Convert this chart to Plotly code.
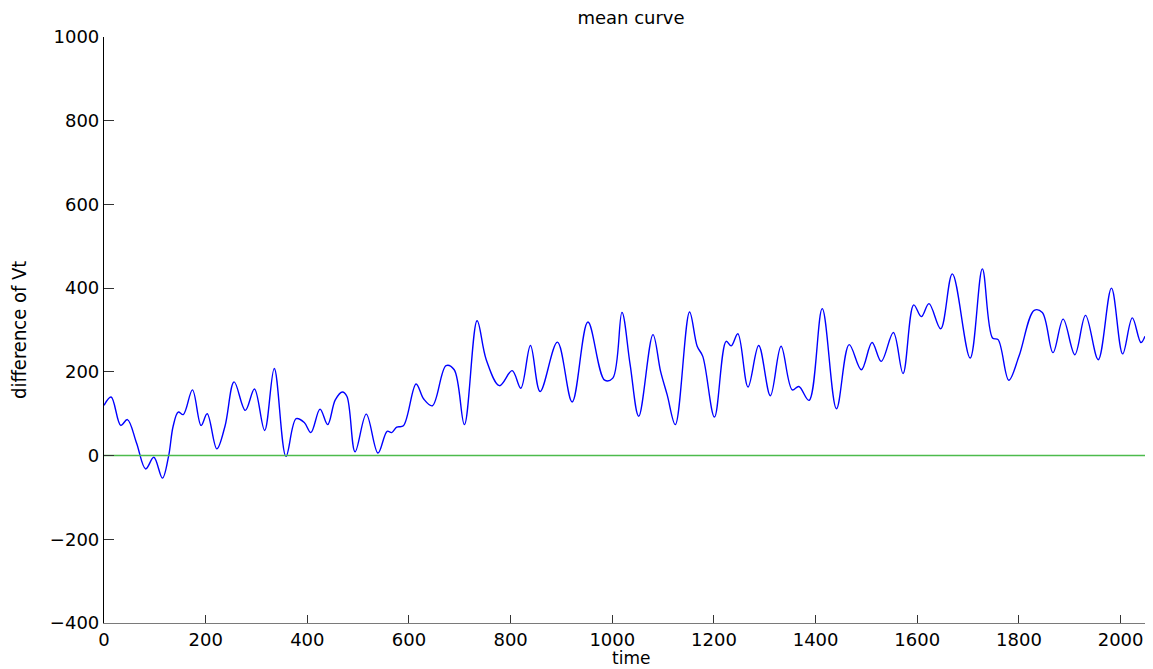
import plotly.graph_objects as go

# Sampled mean curve: time index and difference of Vt
time_pts = [
    0, 14, 33, 46, 64, 82, 98, 115, 127, 136, 146, 156, 174, 191, 203, 222,
    238, 256, 278, 296, 316, 335, 358, 378, 394, 407, 425, 440, 455, 469,
    478, 494, 516, 539, 557, 566, 576, 589, 614, 629, 646, 673, 689, 709,
    734, 752, 778, 803, 820, 839, 858, 892, 921, 952, 985, 1001, 1019, 1035,
    1052, 1080, 1095, 1108, 1124, 1152, 1167, 1178, 1201, 1224, 1234, 1247,
    1267, 1288, 1311, 1332, 1354, 1367, 1387, 1413, 1441, 1466, 1490, 1511,
    1529, 1553, 1572, 1593, 1608, 1623, 1646, 1669, 1704, 1728, 1748, 1759,
    1780, 1800, 1830, 1846, 1867, 1887, 1910, 1931, 1956, 1982, 2004, 2023,
    2040, 2048,
]
mean_vals = [
    120, 140, 72, 86, 30, -32, -4, -54, -2, 70, 104, 98, 157, 72, 100, 16,
    70, 176, 108, 159, 60, 208, -2, 88, 79, 55, 111, 74, 133, 152,
    141, 9, 99, 6, 58, 55, 68, 71, 171, 135, 119, 215, 205, 74,
    322, 229, 167, 203, 161, 263, 153, 271, 128, 319, 180, 185, 342, 218,
    94, 289, 201, 145, 74, 343, 261, 237, 92, 273, 262, 291,
    164, 263, 143, 261, 157, 165, 132, 351, 112, 265, 205, 270,
    225, 294, 196, 360, 332, 363, 303, 434, 233, 446, 281, 277,
    180, 237, 347, 342, 246, 326, 241, 335, 229, 400, 243, 329,
    270, 285,
]

# Zero reference line
baseline_x = [0, 2048]
baseline_y = [0, 0]

x_ticks = list(range(0, 2001, 200))
y_ticks = list(range(-400, 1001, 200))

FONT = "DejaVu Sans"
W, H = 1153, 669

fig = go.Figure()
fig.add_trace(go.Scatter(
    x=time_pts, y=mean_vals, mode="lines",
    line=dict(color="#0000ff", width=1.4, shape="spline", smoothing=1.0),
    hoverinfo="x+y", showlegend=False,
))
fig.add_trace(go.Scatter(
    x=baseline_x, y=baseline_y, mode="lines",
    line=dict(color="#4cbb4c", width=1.5),
    hoverinfo="skip", showlegend=False,
))

fig.update_layout(
    width=W, height=H,
    margin=dict(l=104, r=8, t=37, b=46),
    paper_bgcolor="white", plot_bgcolor="white",
    font=dict(family=FONT, size=18, color="black"),
    title=dict(text="mean curve", x=631 / W, xanchor="center",
               y=1 - 18 / H, yanchor="middle", font=dict(family=FONT, size=18)),
    xaxis=dict(
        range=[0, 2048], tickvals=x_ticks, ticktext=[str(v) for v in x_ticks],
        showgrid=False, zeroline=False,
        showline=True, linecolor="#7a7a7a", linewidth=1.2,
        ticks="inside", ticklen=8, tickcolor="#333333", tickwidth=1,
        tickfont=dict(family=FONT, size=18),
    ),
    yaxis=dict(
        range=[-400, 1000], tickvals=y_ticks,
        showgrid=False, zeroline=False,
        showline=True, linecolor="black", linewidth=1.2,
        ticks="inside", ticklen=10, tickcolor="#333333", tickwidth=1,
        tickfont=dict(family=FONT, size=18),
    ),
    annotations=[
        dict(text="time", xref="paper", yref="paper",
             x=(631 - 104) / (W - 112), y=-(658 - 623) / (623 - 37),
             xanchor="center", yanchor="middle", showarrow=False,
             font=dict(family=FONT, size=17)),
        dict(text="difference of Vt", xref="paper", yref="paper",
             x=-(104 - 19) / (W - 112), y=0.5, textangle=-90,
             xanchor="center", yanchor="middle", showarrow=False,
             font=dict(family="DejaVu Sans Condensed, DejaVu Sans", size=20)),
    ],
)

fig.write_html("out.html")
